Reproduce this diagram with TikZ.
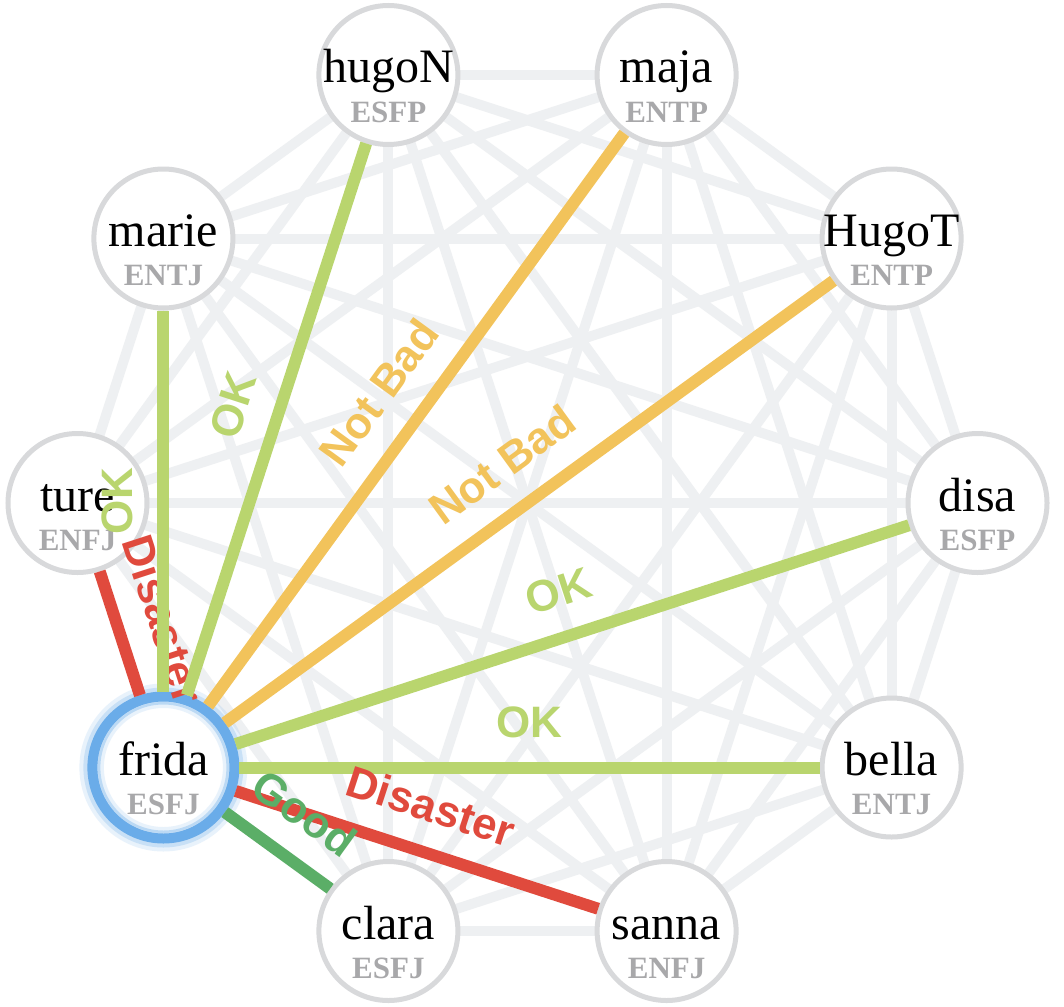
\documentclass[tikz,border=0pt]{standalone}
\usepackage{fontspec}
\setmainfont{Liberation Serif}
\newfontfamily\lblfont{Liberation Sans}
\pgfdeclarelayer{bg}
\pgfsetlayers{bg,main}
\definecolor{edgegray}{HTML}{EEF0F2}
\definecolor{nodegray}{HTML}{D8D9DB}
\definecolor{typegray}{HTML}{A8A8AA}
\definecolor{okgreen}{HTML}{B9D56E}
\definecolor{notbad}{HTML}{F2C35B}
\definecolor{disaster}{HTML}{E04A3D}
\definecolor{good}{HTML}{5BAE67}
\definecolor{fridablue}{HTML}{6AACE9}
\tikzset{
  pnode/.style={circle, draw=nodegray, line width=2.5pt, fill=white, minimum size=69.5pt, inner sep=0pt},
  pname/.style={anchor=base, inner sep=0pt, font=\fontsize{24}{24}\selectfont, text=black},
  ptype/.style={anchor=base, inner sep=0pt, font=\bfseries\fontsize{15.5}{15.5}\selectfont, text=typegray},
  gedge/.style={draw=edgegray, line width=5pt},
  cedge/.style={line width=6pt},
  elabel/.style={midway, sloped, anchor=south, inner xsep=0pt, inner ysep=12pt, font=\lblfont\bfseries\fontsize{22}{22}\selectfont},
}
\newcommand\person[4]{%
  \node[pnode] (#1) at (#2,#3) {};
  \node[pname] (#1-n) at (#2,#3+8) {#1};
  \node[ptype] (#1-t) at (#2,#3+47) {#4};
}
\begin{document}
\begin{tikzpicture}[x=0.5pt,y=-0.5pt]
\useasboundingbox (0,0) rectangle (1064,1006);
% nodes
\person{disa}{977.5}{503}{ESFP}
\person{HugoT}{891.6}{238.5}{ENTP}
\person{maja}{666.6}{75}{ENTP}
\person{hugoN}{388.4}{75}{ESFP}
\person{marie}{163.4}{238.5}{ENTJ}
\person{ture}{77.5}{503}{ENFJ}
\person{clara}{388.4}{931}{ESFJ}
\person{sanna}{666.6}{931}{ENFJ}
\person{bella}{891.6}{767.5}{ENTJ}
% frida with glow
\fill[fridablue, opacity=0.15] (163.4,767.5) circle[radius=84];
\fill[fridablue, opacity=0.25] (163.4,767.5) circle[radius=80];
\node[circle, draw=fridablue, line width=5pt, fill=white, minimum size=71pt, inner sep=0pt] (frida) at (163.4,767.5) {};
\draw[fridablue, opacity=0.35, line width=2pt] (frida.center) circle[radius=65];
\draw[fridablue, opacity=0.15, line width=3pt] (frida.center) circle[radius=62.5];
\node[pname] (frida-n) at (163.4,775.5) {frida};
\node[ptype] (frida-t) at (163.4,814.5) {ESFJ};
% gray complete graph
\begin{pgfonlayer}{bg}
\fill[white] (0,0) rectangle (1064,1006);
\foreach \a [count=\i] in {disa,HugoT,maja,hugoN,marie,ture,frida,clara,sanna,bella}{
  \foreach \b [count=\j] in {disa,HugoT,maja,hugoN,marie,ture,frida,clara,sanna,bella}{
    \ifnum\j>\i \draw[gedge] (\a.center) -- (\b.center); \fi
  }
}
\end{pgfonlayer}
% coloured links from frida
\draw[cedge, draw=disaster] (frida) -- (ture) node[elabel, text=disaster] (l1) {Disaster};
\draw[cedge, draw=okgreen] (frida) -- (marie) node[elabel, text=okgreen] (l2) {OK};
\draw[cedge, draw=okgreen] (frida) -- (hugoN) node[elabel, text=okgreen] (l3) {OK};
\draw[cedge, draw=notbad] (frida) -- (maja) node[elabel, text=notbad] (l4) {Not Bad};
\draw[cedge, draw=notbad] (frida) -- (HugoT) node[elabel, text=notbad] (l5) {Not Bad};
\draw[cedge, draw=okgreen] (frida) -- (disa) node[elabel, text=okgreen] (l6) {OK};
\draw[cedge, draw=okgreen] (frida) -- (bella) node[elabel, text=okgreen] (l7) {OK};
\draw[cedge, draw=disaster] (frida) -- (sanna) node[elabel, text=disaster] (l8) {Disaster};
\draw[cedge, draw=good] (frida) -- (clara) node[elabel, text=good] (l9) {Good};
\end{tikzpicture}
\end{document}
